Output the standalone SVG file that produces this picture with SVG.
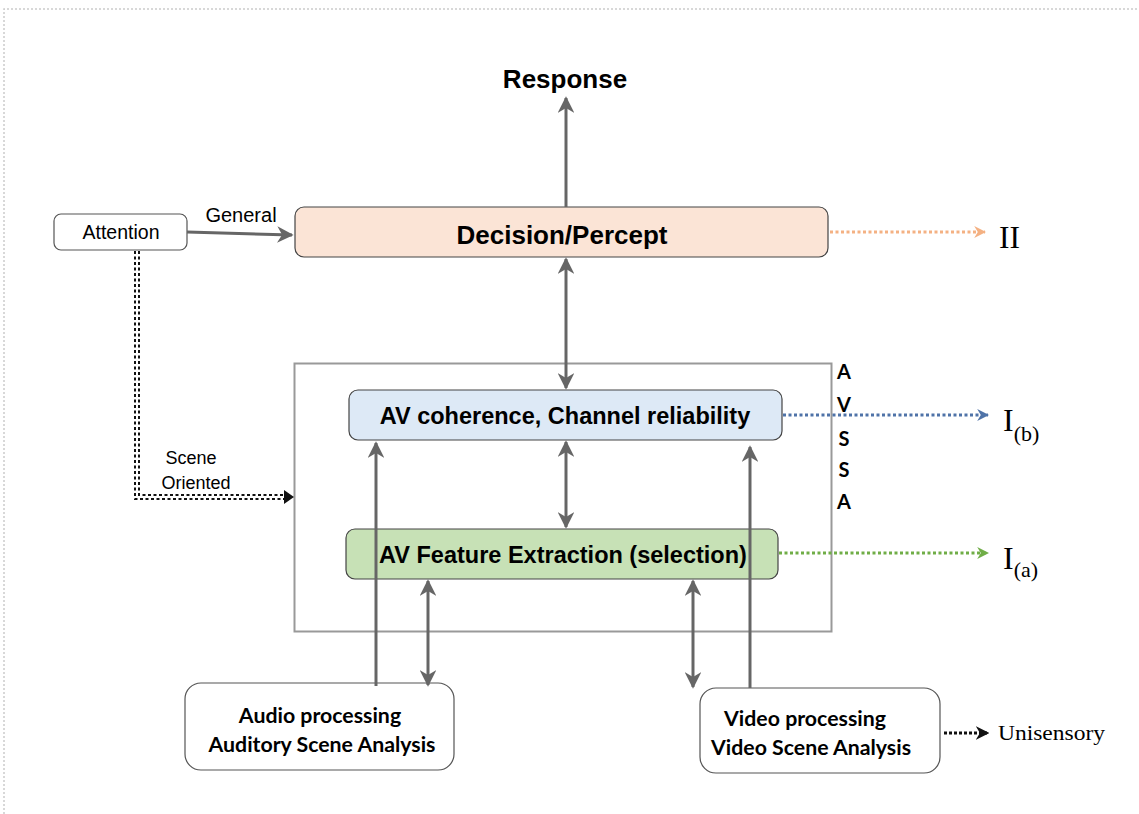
<svg xmlns="http://www.w3.org/2000/svg" width="1139" height="814" viewBox="0 0 1139 814">
<style>
.sans{font-family:"Liberation Sans",Arial,sans-serif;}
.cal{font-family:Lato,"Open Sans",sans-serif;font-weight:700;}
.ser{font-family:"Liberation Serif","Times New Roman",serif;}
.conn{stroke:#666;stroke-width:3;fill:none;}
.box{stroke:#444;stroke-width:1.2;}
</style>
<defs>
<marker id="ah" viewBox="0 0 10 10" refX="9" refY="5" markerWidth="5.5" markerHeight="5.5" orient="auto-start-reverse" markerUnits="strokeWidth"><path d="M0,0 L10,5 L0,10 L3,5 z" fill="#666"/></marker>
<marker id="ahk" viewBox="0 0 10 10" refX="9" refY="5" markerWidth="4.5" markerHeight="4.5" orient="auto" markerUnits="strokeWidth"><path d="M0,0 L10,5 L0,10 L3,5 z" fill="#111"/></marker>
<marker id="aho" viewBox="0 0 10 10" refX="9" refY="5" markerWidth="4" markerHeight="4" orient="auto" markerUnits="strokeWidth"><path d="M0,0 L10,5 L0,10 L3,5 z" fill="#f4b183"/></marker>
<marker id="ahb" viewBox="0 0 10 10" refX="9" refY="5" markerWidth="4" markerHeight="4" orient="auto" markerUnits="strokeWidth"><path d="M0,0 L10,5 L0,10 L3,5 z" fill="#4f73a8"/></marker>
<marker id="ahg" viewBox="0 0 10 10" refX="9" refY="5" markerWidth="4" markerHeight="4" orient="auto" markerUnits="strokeWidth"><path d="M0,0 L10,5 L0,10 L3,5 z" fill="#70ad47"/></marker>
</defs>
<rect width="1139" height="814" fill="#fff"/>
<path d="M4,814 V9 H1139" fill="none" stroke="#ccc" stroke-width="1.5" stroke-dasharray="2 2"/>

<g id="avssa">
<rect x="294.5" y="363.5" width="537" height="268" fill="none" stroke="#999" stroke-width="2"/>
<text class="cal" font-size="20" text-anchor="middle" x="844"><tspan x="844" y="379">A</tspan><tspan x="844" y="412">V</tspan><tspan x="844" y="446">S</tspan><tspan x="844" y="477">S</tspan><tspan x="844" y="509">A</tspan></text>
</g>

<g id="attention">
<rect x="54" y="214" width="133" height="36" rx="7" fill="#fff" stroke="#555" stroke-width="1.2"/>
<text class="sans" x="121" y="239" font-size="19.5" text-anchor="middle">Attention</text>
</g>

<g id="decision">
<rect class="box" x="295" y="207" width="533" height="50" rx="9" fill="#fbe4d6"/>
<text class="sans" x="562" y="244" font-size="26" font-weight="700" text-anchor="middle">Decision/Percept</text>
</g>

<g id="coherence">
<rect class="box" x="349" y="390" width="433" height="50" rx="9" fill="#dde9f6"/>
<text class="sans" x="565" y="424" font-size="23.5" font-weight="700" text-anchor="middle">AV coherence, Channel reliability</text>
</g>

<g id="feature">
<rect class="box" x="346" y="529" width="432" height="50" rx="9" fill="#c7e1b6"/>
<text class="sans" x="563" y="563" font-size="23.5" font-weight="700" text-anchor="middle">AV Feature Extraction (selection)</text>
</g>

<g id="audio">
<rect x="185" y="683" width="269" height="87" rx="16" fill="#fff" stroke="#555" stroke-width="1.2"/>
<text class="cal" font-size="21.3" text-anchor="middle"><tspan x="320" y="723">Audio processing</tspan><tspan x="322" y="752">Auditory Scene Analysis</tspan></text>
</g>

<g id="video">
<rect x="700" y="688" width="240" height="85" rx="16" fill="#fff" stroke="#555" stroke-width="1.2"/>
<text class="cal" font-size="21.3" text-anchor="middle"><tspan x="805" y="726">Video processing</tspan><tspan x="811" y="755">Video Scene Analysis</tspan></text>
</g>

<g id="labels">
<text class="sans" x="565" y="88" font-size="26" font-weight="700" text-anchor="middle">Response</text>
<text class="sans" x="241" y="222" font-size="20" text-anchor="middle">General</text>
<text class="sans" font-size="18" text-anchor="middle"><tspan x="191" y="464">Scene</tspan><tspan x="196" y="489">Oriented</tspan></text>
<text class="ser" x="999" y="248" font-size="32" textLength="21" lengthAdjust="spacingAndGlyphs">II</text>
<text class="ser" x="1003" y="431" font-size="32">I<tspan font-size="22" dy="10">(b)</tspan></text>
<text class="ser" x="1003" y="569" font-size="32">I<tspan font-size="22" dy="8">(a)</tspan></text>
<text class="ser" x="998" y="740" font-size="20" textLength="107" lengthAdjust="spacingAndGlyphs">Unisensory</text>
</g>

<g id="connectors">
<path class="conn" d="M187,232 L292,235" marker-end="url(#ah)"/>
<path class="conn" d="M566,207 V98" marker-end="url(#ah)"/>
<path class="conn" d="M566,259 V388" marker-start="url(#ah)" marker-end="url(#ah)"/>
<path class="conn" d="M566,442 V527" marker-start="url(#ah)" marker-end="url(#ah)"/>
<path class="conn" d="M376,686 V443" marker-end="url(#ah)"/>
<path class="conn" d="M750,688 V447" marker-end="url(#ah)"/>
<path class="conn" d="M428,581 V685" marker-start="url(#ah)" marker-end="url(#ah)"/>
<path class="conn" d="M693,581 V687" marker-start="url(#ah)" marker-end="url(#ah)"/>
<path d="M135,251 V499 H289 M139,251 V495 H289" fill="none" stroke="#111" stroke-width="2" stroke-dasharray="3 2.5"/>
<path d="M284,490 L294,497 L284,504 Z" fill="#111"/>
<path d="M830,232 H985" fill="none" stroke="#f4b183" stroke-width="3" stroke-dasharray="3 2.5" marker-end="url(#aho)"/>
<path d="M783,415 H988" fill="none" stroke="#4f73a8" stroke-width="3" stroke-dasharray="3 2.5" marker-end="url(#ahb)"/>
<path d="M779,553 H988" fill="none" stroke="#70ad47" stroke-width="3" stroke-dasharray="3 2.5" marker-end="url(#ahg)"/>
<path d="M944,733 H988" fill="none" stroke="#111" stroke-width="3" stroke-dasharray="3 2" marker-end="url(#ahk)"/>
</g>
</svg>
